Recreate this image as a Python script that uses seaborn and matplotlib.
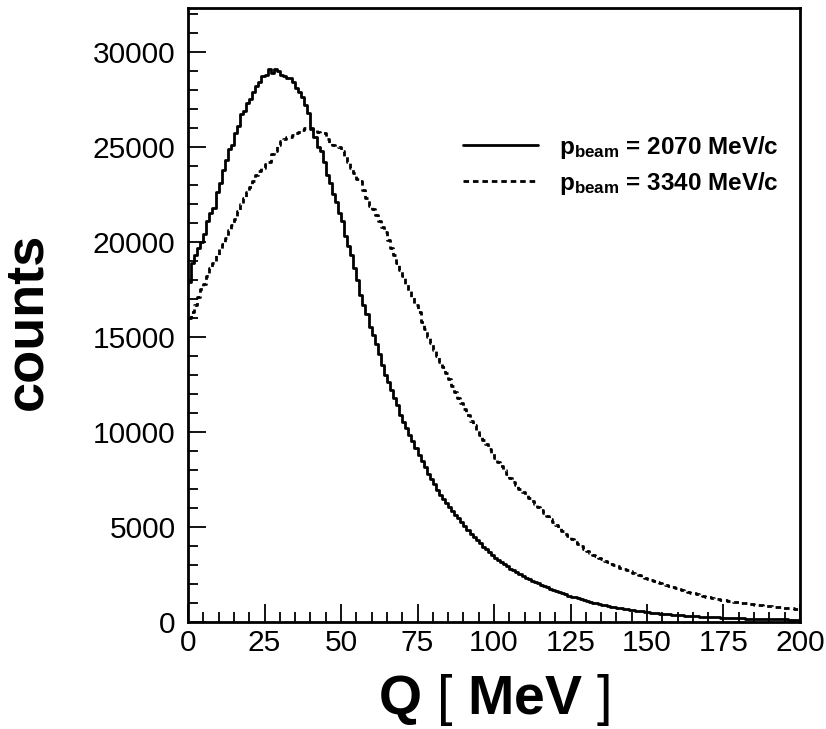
import numpy as np
import pandas as pd
import matplotlib
matplotlib.use("Agg")
import matplotlib.pyplot as plt
from matplotlib.ticker import MultipleLocator
from matplotlib.lines import Line2D
import seaborn as sns

# Histogram bin edges (1 MeV bins, 0..200 MeV)
q_edges = list(range(0, 201))

counts_2070 = [
    17900, 18900, 19300, 19700, 20000, 20400, 21100, 21500, 21800, 22600,
    23100, 23800, 24300, 24900, 25100, 25700, 26100, 26700, 26900, 27300,
    27500, 27900, 28200, 28400, 28700, 28800, 29100, 28900, 29100, 29000,
    28800, 28700, 28600, 28600, 28400, 28100, 27900, 27600, 27200, 26800,
    26000, 25500, 25000, 24800, 24200, 23500, 23100, 22500, 22100, 21500,
    21100, 20300, 19800, 19300, 18600, 18000, 17200, 16700, 16200, 15500,
    15100, 14600, 14100, 13500, 13000, 12600, 12200, 11800, 11400, 10900,
    10500, 10200, 9850, 9500, 9150, 8800, 8450, 8150, 7800, 7500,
    7250, 6950, 6700, 6450, 6250, 6050, 5850, 5650, 5450, 5250,
    5050, 4850, 4650, 4470, 4300, 4130, 3970, 3820, 3670, 3530,
    3390, 3260, 3140, 3030, 2920, 2810, 2710, 2610, 2520, 2430,
    2340, 2260, 2180, 2100, 2030, 1960, 1890, 1820, 1740, 1680,
    1620, 1560, 1500, 1450, 1390, 1340, 1290, 1240, 1190, 1150,
    1100, 1060, 1020, 980, 945, 910, 875, 840, 810, 780,
    750, 720, 695, 670, 645, 620, 600, 575, 555, 535,
    515, 495, 480, 462, 445, 430, 415, 400, 386, 372,
    360, 348, 336, 325, 314, 304, 294, 285, 276, 268,
    260, 252, 244, 237, 230, 223, 216, 210, 204, 198,
    192, 187, 182, 177, 172, 168, 164, 160, 156, 152,
    148, 145, 142, 139, 136, 133, 130, 127, 125, 122,
]

counts_3340 = [
    16000, 16300, 16700, 17100, 17500, 17800, 18200, 18600, 18900, 19300,
    19600, 19900, 20200, 20600, 20900, 21200, 21600, 22000, 22300, 22600,
    22900, 23200, 23500, 23700, 23900, 24100, 24200, 24600, 24800, 25100,
    25300, 25400, 25500, 25500, 25600, 25700, 25800, 25900, 26000, 26000,
    25950, 25900, 25800, 25700, 25700, 25400, 25200, 25100, 25050, 25000,
    24800, 24500, 24200, 23900, 23600, 23300, 23200, 22700, 22300, 21900,
    21700, 21400, 21100, 20800, 20500, 20100, 19700, 19300, 18900, 18500,
    18200, 17800, 17400, 17100, 16700, 16300, 15800, 15400, 15000, 14700,
    14300, 14000, 13700, 13400, 13100, 12800, 12400, 12100, 11800, 11500,
    11200, 10900, 10600, 10350, 10100, 9850, 9600, 9350, 9100, 8900,
    8650, 8400, 8200, 7980, 7780, 7580, 7380, 7200, 7020, 6850,
    6680, 6520, 6360, 6200, 6040, 5880, 5730, 5580, 5420, 5280,
    5100, 4950, 4800, 4650, 4500, 4360, 4230, 4100, 3980, 3860,
    3750, 3650, 3550, 3460, 3370, 3290, 3210, 3140, 3070, 3000,
    2930, 2860, 2790, 2720, 2660, 2590, 2520, 2460, 2390, 2330,
    2270, 2210, 2150, 2100, 2040, 1990, 1940, 1890, 1840, 1790,
    1740, 1690, 1640, 1590, 1540, 1500, 1460, 1420, 1380, 1340,
    1300, 1260, 1230, 1200, 1170, 1140, 1110, 1080, 1060, 1040,
    1020, 1000, 980, 960, 940, 920, 900, 880, 860, 840,
    820, 805, 790, 775, 760, 745, 730, 715, 700, 690,
]

labels = [r"$\mathbf{p_{beam}}$ = 2070 MeV/c", r"$\mathbf{p_{beam}}$ = 3340 MeV/c"]
x_ticks = [0, 25, 50, 75, 100, 125, 150, 175, 200]
y_ticks = [0, 5000, 10000, 15000, 20000, 25000, 30000]

sns.set_style("white")
plt.rcParams["font.family"] = ["Liberation Sans", "DejaVu Sans"]
plt.rcParams["mathtext.fontset"] = "custom"
plt.rcParams["mathtext.rm"] = "Liberation Sans"
plt.rcParams["mathtext.bf"] = "Liberation Sans:bold"
plt.rcParams["mathtext.it"] = "Liberation Sans:italic"
for key in ["text.color", "axes.labelcolor", "xtick.color", "ytick.color", "axes.edgecolor"]:
    plt.rcParams[key] = "black"

centers = [e + 0.5 for e in q_edges[:-1]]
df = pd.DataFrame({
    "Q": centers * 2,
    "counts": counts_2070 + counts_3340,
    "beam": [labels[0]] * len(centers) + [labels[1]] * len(centers),
})

fig = plt.figure(figsize=(8.26, 7.29), dpi=100)
ax = fig.add_axes([188 / 826, 1 - 622 / 729, (800 - 188) / 826, (622 - 8) / 729])

lw = 2.0
dash = (0, (2.0, 1.4))
sns.histplot(data=df[df["beam"] == labels[0]], x="Q", weights="counts", bins=q_edges,
             element="step", fill=False, color="black", linewidth=lw, ax=ax,
             linestyle="-")
sns.histplot(data=df[df["beam"] == labels[1]], x="Q", weights="counts", bins=q_edges,
             element="step", fill=False, color="black", linewidth=lw, ax=ax,
             linestyle=dash)

ax.set_xlim(0, 200)
ax.set_ylim(0, 32300)
ax.set_xticks(x_ticks)
ax.set_yticks(y_ticks)
ax.xaxis.set_minor_locator(MultipleLocator(5))
ax.yaxis.set_minor_locator(MultipleLocator(1000))
ax.tick_params(which="major", direction="in", length=13, width=1.3, labelsize=21.5,
               top=False, right=False, bottom=True, left=True, colors="black")
ax.tick_params(which="minor", direction="in", length=7, width=1.3,
               top=False, right=False, bottom=True, left=True)
ax.tick_params(axis="x", pad=5)
ax.tick_params(axis="y", pad=9)
for sp in ax.spines.values():
    sp.set_linewidth(2.0)
    sp.set_color("black")

ax.set_xlabel(r"$\mathbf{Q}\ \mathrm{[}\ \mathbf{MeV}\ \mathrm{]}$", fontsize=40)
ax.set_ylabel("counts", fontsize=39, fontweight="bold")
ax.xaxis.set_label_coords(0.50, -0.082)
ax.yaxis.set_label_coords(-0.222, 0.49)

handles = [Line2D([], [], color="black", linewidth=lw, linestyle="-"),
           Line2D([], [], color="black", linewidth=lw, linestyle=dash)]
leg = ax.legend(handles, labels, loc="upper left", frameon=False,
                bbox_to_anchor=(463 / 826, 1 - 134 / 729), bbox_transform=fig.transFigure,
                prop={"size": 17.5, "weight": "bold"}, handlelength=3.1,
                handletextpad=0.85, labelspacing=0.35, borderpad=0, borderaxespad=0)

fig.savefig("out.png", dpi=100)
